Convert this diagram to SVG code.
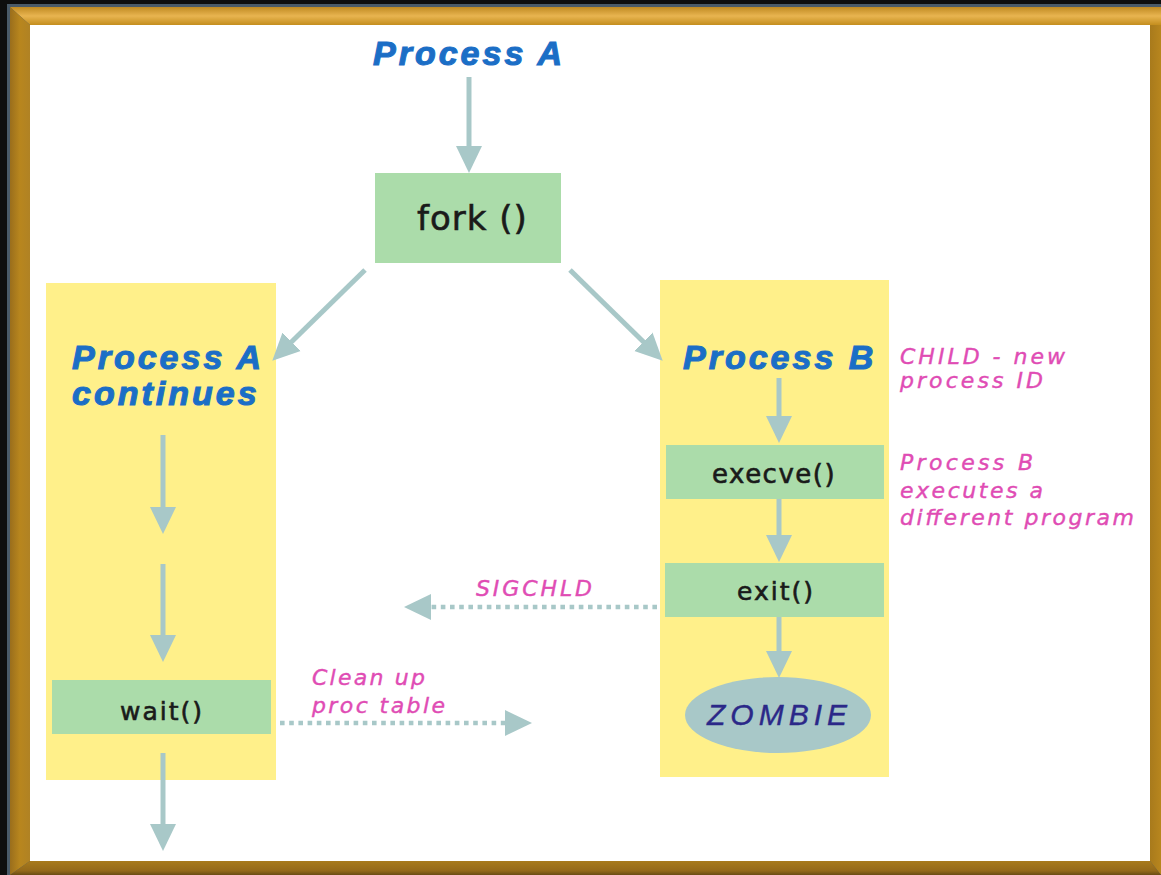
<svg xmlns="http://www.w3.org/2000/svg" width="1161" height="875" viewBox="0 0 1161 875">
  <defs>
    <style>
      .panel { fill: #fff08a; }
      .box { fill: #abdcaa; }
      .head { font-family: "Liberation Sans", Arial, sans-serif; font-weight: bold; font-style: italic; font-size: 34px; letter-spacing: 3px; fill: #1b6ec6; stroke: #1b6ec6; stroke-width: 1.1px; }
      .fn { font-family: "DejaVu Sans", sans-serif; fill: #1a1a1a; stroke: #1a1a1a; stroke-width: 0.6px; }
      .note { font-family: "DejaVu Sans", sans-serif; font-style: oblique; font-size: 22px; fill: #e04cb4; stroke: #e04cb4; stroke-width: 0.4px; }
      .conn { stroke: #a8c8c8; stroke-width: 5; fill: none; }
      .dot { stroke: #a8c8c8; stroke-width: 4.6; fill: none; stroke-dasharray: 4.6 4.6; }
    </style>
    <marker id="ah" markerUnits="userSpaceOnUse" markerWidth="27" markerHeight="27" refX="6" refY="13" orient="auto" viewBox="0 0 27 26">
      <path d="M0,0 L27,13 L0,26 z" fill="#a8c8c8"/>
    </marker>
    <linearGradient id="gTop" x1="0" y1="0" x2="0" y2="1">
      <stop offset="0" stop-color="#c08a22"/>
      <stop offset="0.5" stop-color="#e8b450"/>
      <stop offset="1" stop-color="#c48e1e"/>
    </linearGradient>
    <linearGradient id="gLeft" x1="0" y1="0" x2="1" y2="0">
      <stop offset="0" stop-color="#9a6e1c"/>
      <stop offset="0.5" stop-color="#b8861e"/>
      <stop offset="1" stop-color="#b08224"/>
    </linearGradient>
    <linearGradient id="gBot" x1="0" y1="0" x2="0" y2="1">
      <stop offset="0" stop-color="#a87a1c"/>
      <stop offset="0.7" stop-color="#94691a"/>
      <stop offset="1" stop-color="#6a4c14"/>
    </linearGradient>
    <linearGradient id="gRight" x1="0" y1="0" x2="1" y2="0">
      <stop offset="0" stop-color="#a87a1c"/>
      <stop offset="1" stop-color="#b8861e"/>
    </linearGradient>
  </defs>

  <g id="frame">
    <rect x="0" y="0" width="1161" height="875" fill="#0e0e0e"/>
    <rect x="7" y="4" width="1154" height="871" fill="#4a5a68"/>
    <polygon points="10,7 1161,7 1161,25 30,25" fill="url(#gTop)"/>
    <polygon points="10,7 30,25 30,861 10,875" fill="url(#gLeft)"/>
    <polygon points="1150,25 1161,25 1161,875 1150,861" fill="url(#gRight)"/>
    <polygon points="30,861 1150,861 1161,875 10,875" fill="url(#gBot)"/>
    <rect x="30" y="25" width="1120" height="836" fill="#ffffff"/>
  </g>

  <g id="panel-a">
    <rect class="panel" x="46" y="283" width="230" height="497"/>
  </g>
  <g id="panel-b">
    <rect class="panel" x="660" y="280" width="229" height="497"/>
  </g>

  <g id="process-a">
    <text class="head" x="373" y="65">Process A</text>
  </g>

  <g id="fork">
    <rect class="box" x="375" y="173" width="186" height="90"/>
    <text class="fn" x="417" y="230" font-size="34" letter-spacing="1">fork ()</text>
  </g>

  <g id="process-a-continues">
    <text class="head" x="72" y="369">Process A</text>
    <text class="head" x="72" y="405">continues</text>
  </g>

  <g id="wait">
    <rect class="box" x="52" y="680" width="219" height="54"/>
    <text class="fn" x="120" y="720" font-size="25" letter-spacing="2">wait()</text>
  </g>

  <g id="process-b">
    <text class="head" x="683" y="369">Process B</text>
  </g>

  <g id="execve">
    <rect class="box" x="666" y="445" width="218" height="54"/>
    <text class="fn" x="712" y="483" font-size="26" letter-spacing="1.5">execve()</text>
  </g>

  <g id="exit">
    <rect class="box" x="665" y="563" width="219" height="54"/>
    <text class="fn" x="737" y="600" font-size="25" letter-spacing="2">exit()</text>
  </g>

  <g id="zombie">
    <ellipse cx="778" cy="715" rx="93" ry="38" fill="#a8c8c8"/>
    <text x="707" y="725" font-family="Liberation Sans, Arial, sans-serif" font-style="italic" font-size="30" letter-spacing="5" fill="#2b2888" stroke="#2b2888" stroke-width="0.4">ZOMBIE</text>
  </g>

  <g id="notes">
    <text class="note" x="900" y="364" textLength="165" lengthAdjust="spacing">CHILD - new</text>
    <text class="note" x="900" y="388" textLength="143" lengthAdjust="spacing">process ID</text>
    <text class="note" x="900" y="470" textLength="133" lengthAdjust="spacing">Process B</text>
    <text class="note" x="900" y="498" textLength="143" lengthAdjust="spacing">executes a</text>
    <text class="note" x="900" y="525" textLength="234" lengthAdjust="spacing">different program</text>
    <text class="note" x="476" y="596" textLength="116" lengthAdjust="spacing">SIGCHLD</text>
    <text class="note" x="312" y="685" textLength="113" lengthAdjust="spacing">Clean up</text>
    <text class="note" x="312" y="713" textLength="133" lengthAdjust="spacing">proc table</text>
  </g>

  <g id="connectors">
    <line class="conn" x1="469" y1="77" x2="469" y2="152" marker-end="url(#ah)"/>
    <line class="conn" x1="365" y1="270" x2="287.3" y2="346" marker-end="url(#ah)"/>
    <line class="conn" x1="570" y1="270" x2="647.7" y2="346" marker-end="url(#ah)"/>
    <line class="conn" x1="163" y1="435" x2="163" y2="513" marker-end="url(#ah)"/>
    <line class="conn" x1="163" y1="564" x2="163" y2="641" marker-end="url(#ah)"/>
    <line class="conn" x1="163" y1="753" x2="163" y2="830" marker-end="url(#ah)"/>
    <line class="conn" x1="779" y1="378" x2="779" y2="422" marker-end="url(#ah)"/>
    <line class="conn" x1="779" y1="499" x2="779" y2="541" marker-end="url(#ah)"/>
    <line class="conn" x1="779" y1="617" x2="779" y2="657" marker-end="url(#ah)"/>
    <line class="dot" x1="657" y1="607" x2="425" y2="607" marker-end="url(#ah)"/>
    <line class="dot" x1="280" y1="723" x2="511" y2="723" marker-end="url(#ah)"/>
  </g>
</svg>
